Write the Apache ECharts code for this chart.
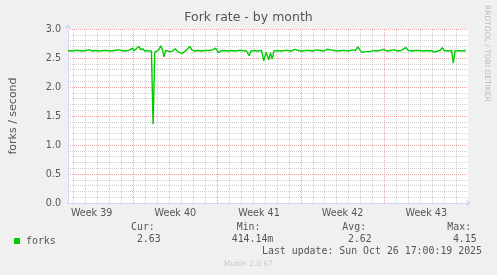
<!DOCTYPE html>
<html>
<head>
<meta charset="utf-8">
<script src="https://cdn.jsdelivr.net/npm/echarts@6/dist/echarts.min.js"></script>
<style>
html,body{margin:0;padding:0;background:#f0f0f0;}
#c{width:497px;height:275px;}
</style>
</head>
<body>
<div id="c"></div>
<script>
// Time in days since Mon 22 Sep 2025 00:00
const days = [1.52,1.8,2.1,2.4,2.7,3.0,3.3,3.6,3.9,4.2,4.5,4.8,5.1,5.4,5.7,6.0,6.3,6.6,6.92,7.03,7.19,7.44,7.61,7.78,7.94,8.11,8.28,8.50,8.64,8.78,8.94,9.11,9.28,9.45,9.55,9.69,9.86,10.11,10.28,10.49,10.70,10.86,11.09,11.28,11.49,11.72,11.87,12.12,12.4,12.7,13.0,13.3,13.62,13.87,14.12,14.29,14.6,14.9,15.2,15.5,15.8,16.1,16.46,16.67,16.83,17.1,17.4,17.71,17.90,18.09,18.32,18.46,18.60,18.75,19.0,19.3,19.6,19.9,20.2,20.5,20.8,21.1,21.4,21.7,22.0,22.3,22.6,22.9,23.2,23.5,23.8,24.1,24.4,24.7,25.0,25.3,25.56,25.78,25.97,26.14,26.47,26.81,27.06,27.3,27.6,27.9,28.2,28.5,28.8,29.1,29.4,29.56,29.79,30.0,30.3,30.6,30.9,31.2,31.5,31.8,31.98,32.15,32.31,32.65,32.84,32.98,33.3,33.61,33.76,33.90,34.2,34.5,34.82];
const forks = [2.63,2.62,2.63,2.63,2.62,2.63,2.64,2.62,2.63,2.62,2.63,2.63,2.62,2.63,2.64,2.63,2.62,2.63,2.67,2.62,2.64,2.70,2.64,2.66,2.62,2.63,2.62,2.62,1.36,2.60,2.63,2.64,2.71,2.62,2.52,2.63,2.62,2.61,2.62,2.66,2.61,2.64,2.58,2.61,2.65,2.70,2.64,2.62,2.63,2.62,2.63,2.63,2.64,2.67,2.59,2.62,2.63,2.62,2.63,2.62,2.63,2.63,2.62,2.54,2.62,2.63,2.62,2.63,2.45,2.60,2.47,2.59,2.48,2.62,2.63,2.62,2.63,2.63,2.62,2.65,2.63,2.62,2.63,2.63,2.62,2.64,2.63,2.62,2.65,2.64,2.63,2.62,2.63,2.63,2.62,2.64,2.63,2.69,2.63,2.60,2.61,2.61,2.63,2.62,2.63,2.65,2.62,2.63,2.64,2.62,2.63,2.63,2.68,2.63,2.62,2.63,2.63,2.62,2.63,2.62,2.63,2.60,2.63,2.63,2.68,2.63,2.62,2.63,2.41,2.62,2.63,2.62,2.63];
const xMin = 1.52, xMax = 34.99;
const dayLines = [2,3,4,5,6,8,9,10,11,12,13,15,16,17,18,19,20,22,23,24,25,26,27,29,30,31,32,33,34];
const weekLines = [7,14,21,28];
const weekLabelPos = [3.5,10.5,17.5,24.5,31.5];
const weekLabels = ['Week 39','Week 40','Week 41','Week 42','Week 43'];
const legendHead = ['Cur:','Min:','Avg:','Max:'];
const legendVals = ['2.63','414.14m','2.62','4.15'];
const lastUpdate = 'Last update: Sun Oct 26 17:00:19 2025';

const chart = echarts.init(document.getElementById('c'), null, {renderer:'canvas'});
const mono = 'DejaVu Sans Mono';
const sans = 'DejaVu Sans';
const headX = [131,236.7,342.3,447.3];
const valRight = [160.7,273.3,371.7,476.7];
const gfx = [];
legendHead.forEach((t,i)=>gfx.push({type:'text',left:headX[i],top:222.5,style:{text:t,font:'9.9px "'+mono+'"',fill:'#555'}}));
legendVals.forEach((t,i)=>gfx.push({type:'text',right:497-valRight[i],top:234.8,style:{text:t,font:'9.9px "'+mono+'"',fill:'#555'}}));
gfx.push({type:'text',right:15,top:246.5,style:{text:lastUpdate,font:'9.9px "'+mono+'"',fill:'#555'}});
gfx.push({type:'text',left:'center',top:260,style:{text:'Munin 2.0.67',font:'7.5px "'+sans+'"',fill:'#c8c8c8'}});
gfx.push({type:'text',x:491,y:5,rotation:-Math.PI/2,style:{text:'RRDTOOL / TOBI OETIKER',font:'7.5px "'+sans+'"',fill:'#bbb',textVerticalAlign:'top'}});
gfx.push({type:'text',left:'center',top:11,style:{text:'Fork rate - by month',font:'12.5px "'+sans+'"',fill:'#555'}});

const mlData = dayLines.map(d=>({xAxis:d,lineStyle:{color:'rgba(143,143,143,0.4)',type:[1,1],width:1}}))
  .concat(weekLines.map(d=>({xAxis:d,lineStyle:{color:'rgba(222,80,80,0.5)',type:[1,1],width:1}})));

chart.setOption({
  animation:false,
  backgroundColor:'#f0f0f0',
  grid:{left:67,right:29,top:29,bottom:72,show:true,backgroundColor:'#fff',borderWidth:0},
  legend:{left:9,top:231,icon:'rect',itemWidth:6,itemHeight:6,data:['forks'],
    textStyle:{fontFamily:mono,fontSize:9.9,color:'#555',padding:[0,0,0,1]}},
  graphic:gfx,
  xAxis:{type:'value',min:xMin,max:xMax,
    axisLine:{show:true,lineStyle:{color:'#CFD6F8',width:1},symbol:['none','arrow'],symbolSize:[5,5],symbolOffset:[0,3]},
    axisTick:{show:false},splitLine:{show:false},
    axisLabel:{customValues:weekLabelPos,formatter:v=>weekLabels[weekLabelPos.indexOf(v)],
      color:'#555',fontSize:9.6,fontFamily:sans,margin:5}},
  yAxis:{type:'value',min:0,max:3,interval:0.5,
    name:'forks / second',nameLocation:'middle',nameGap:49,nameRotate:90,
    nameTextStyle:{fontFamily:sans,fontSize:11,color:'#555'},
    axisLine:{show:true,lineStyle:{color:'#CFD6F8',width:1},symbol:['none','arrow'],symbolSize:[5,5],symbolOffset:[0,5]},
    axisTick:{show:false},
    axisLabel:{formatter:v=>v.toFixed(1),color:'#555',fontSize:9.6,fontFamily:sans,margin:7},
    splitLine:{show:true,lineStyle:{color:'rgba(222,80,80,0.5)',type:[1,1]}},
    minorTick:{show:false,splitNumber:5},
    minorSplitLine:{show:true,lineStyle:{color:'rgba(143,143,143,0.4)',type:[1,1]}}},
  series:[{name:'forks',type:'line',data:days.map((d,i)=>[d,forks[i]]),
    showSymbol:false,itemStyle:{color:'#00cc00'},lineStyle:{color:'#00cc00',width:1.4},z:3,
    markLine:{silent:true,symbol:'none',z:1,label:{show:false},data:mlData}}]
});
</script>
</body>
</html>
